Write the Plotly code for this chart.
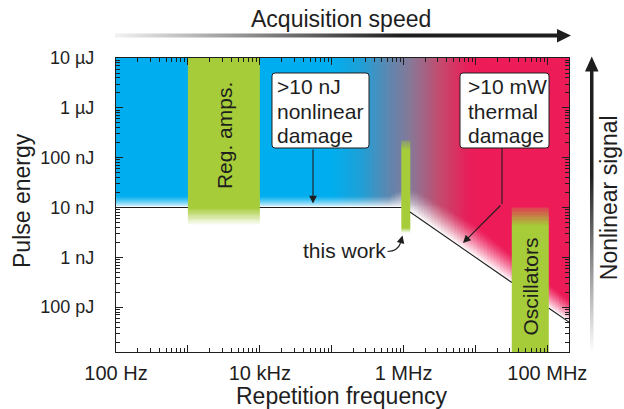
import base64
import numpy as np
import plotly.graph_objects as go

FONT = "Liberation Sans, Arial, Helvetica, sans-serif"
INK = "#1e1e1e"

# ---------------- data ----------------
freq_tickvals = [1e2, 1e3, 1e4, 1e5, 1e6, 1e7, 1e8]
freq_ticktext = ["100 Hz", "", "10 kHz", "", "1 MHz", "", "100 MHz"]
energy_tickvals = [1e-10, 1e-9, 1e-8, 1e-7, 1e-6, 1e-5]
energy_ticktext = ["100 pJ", "1 nJ", "10 nJ", "100 nJ", "1 µJ", "10 µJ"]
freq_range = [1e2, 2e8]          # Hz
energy_range = [1.26e-11, 1e-5]  # J

nonlinear_limit_J = 10e-9   # >10 nJ nonlinear damage
thermal_limit_W = 10e-3     # >10 mW thermal damage

# laser sources: frequency span, energy [fade bottom, solid bottom, solid top, fade top]
regamp_freq = [1e3, 1e4]
regamp_energy = [4.4e-9, 1e-8, 1e-5, 1e-5]
thiswork_freq = [0.93e6, 1.23e6]
thiswork_energy = [3.1e-9, 3.9e-9, 1.4e-7, 2.2e-7]
osc_freq = [3.2e7, 1.05e8]
osc_energy = [1.26e-11, 1.26e-11, 4.3e-9, 1.0e-8]

# background colour versus log10(frequency)
bg_stop_logf = [2.0, 5.0, 5.4, 5.8, 6.1, 6.5, 6.9, 7.1, 8.31]
bg_stop_rgb = [(0, 174, 239), (0, 174, 239), (30, 160, 215), (95, 135, 175),
               (135, 120, 150), (195, 75, 110), (232, 30, 90), (237, 27, 88),
               (237, 27, 88)]
# width (decades of energy) of the white fade above the damage boundary
fade_logf = [2.0, 5.8, 6.2, 7.0, 8.31]
fade_width = [0.25, 0.25, 0.55, 0.65, 0.45]

GREEN = (166, 204, 57)

# ---------------- geometry helpers (plot area in pixels) ----------------
W, H = 624, 409
L, R, T, B = 116, 569, 58, 352


def px(x):
    return (x - L) / (R - L)


def py(y):
    return (B - y) / (B - T)


def boundary(f):
    return np.minimum(nonlinear_limit_J, thermal_limit_W / f)


fig = go.Figure()

lf0, lf1 = np.log10(freq_range)
le0, le1 = np.log10(energy_range)
lx_edges = np.linspace(lf0, lf1, 316)
ly_edges = np.linspace(le0, le1, 296)
lx_mid = 0.5 * (lx_edges[:-1] + lx_edges[1:])
ly_mid = 0.5 * (ly_edges[:-1] + ly_edges[1:])

span = bg_stop_logf[-1] - bg_stop_logf[0]
bg_scale = [[(l - bg_stop_logf[0]) / span, "rgb(%d,%d,%d)" % c]
            for l, c in zip(bg_stop_logf, bg_stop_rgb)]
fig.add_trace(go.Heatmap(
    x=10 ** lx_edges, y=energy_range, z=[lx_mid.tolist()],
    colorscale=bg_scale, zmin=bg_stop_logf[0], zmax=bg_stop_logf[-1],
    showscale=False, hoverinfo="skip"))

LX, LY = np.meshgrid(lx_mid, ly_mid)
d = LY - np.log10(boundary(10 ** LX))
w = np.interp(LX, fade_logf, fade_width)
alpha = np.where(d <= 0, 1.0, np.clip(1 - d / w, 0, 1) ** 1.3)
fig.add_trace(go.Heatmap(
    x=10 ** lx_edges, y=10 ** ly_edges, z=np.round(alpha, 3).tolist(),
    colorscale=[[0, "rgba(255,255,255,0)"], [1, "rgba(255,255,255,1)"]],
    zmin=0, zmax=1, showscale=False, hoverinfo="skip"))


def bar_trace(freq, energy, top_alpha=0.0, bottom_alpha=0.0, n=14):
    e0, e1, e2, e3 = np.log10(energy)
    edges = []
    if e1 - e0 > 1e-6:
        edges += list(np.linspace(e0, e1, n + 1))
    else:
        edges += [e1]
    if e3 - e2 > 1e-6:
        edges += list(np.linspace(e2, e3, n + 1))
    else:
        edges += [e2]
    edges = np.array(edges)
    mids = 0.5 * (edges[:-1] + edges[1:])
    z = []
    for m in mids:
        if m < e1:
            a = bottom_alpha + (1 - bottom_alpha) * (m - e0) / (e1 - e0)
        elif m > e2:
            a = 1 - (1 - top_alpha) * (m - e2) / (e3 - e2)
        else:
            a = 1.0
        z.append([a])
    rgb = "%d,%d,%d" % GREEN
    return go.Heatmap(x=freq, y=10 ** edges, z=z,
                      colorscale=[[0, "rgba(%s,0)" % rgb], [1, "rgba(%s,1)" % rgb]],
                      zmin=0, zmax=1, showscale=False, hoverinfo="skip")


fig.add_trace(bar_trace(regamp_freq, regamp_energy))
fig.add_trace(bar_trace(thiswork_freq, thiswork_energy, top_alpha=0.35))
fig.add_trace(bar_trace(osc_freq, osc_energy, top_alpha=0.2))

# damage boundary line (hidden behind the laser-source bars)
f_cross = thermal_limit_W / nonlinear_limit_J
covers = sorted([regamp_freq, thiswork_freq, osc_freq])
seg_x = []
start = freq_range[0]
for c0, c1 in covers + [[freq_range[1], freq_range[1]]]:
    pts = [start] + ([f_cross] if start < f_cross < c0 else []) + [c0]
    seg_x += pts + [None]
    start = c1
line_x = [v for v in seg_x]
line_y = [None if v is None else float(boundary(v)) for v in seg_x]
fig.add_trace(go.Scatter(x=line_x, y=line_y, mode="lines", connectgaps=False,
                         line=dict(color=INK, width=1.1), hoverinfo="skip"))

minor_x = [m * 10 ** k for k in range(2, 9) for m in range(2, 10) if m * 10 ** k <= freq_range[1]]
minor_y = [m * 10.0 ** k for k in range(-11, -5) for m in range(2, 10)
           if energy_range[0] <= m * 10.0 ** k <= energy_range[1]]

axis_common = dict(ticks="inside", ticklen=7, tickwidth=1, tickcolor=INK,
                   showline=True, linecolor=INK, linewidth=1.2, mirror="allticks",
                   showgrid=False, zeroline=False, automargin=False)
fig.update_xaxes(type="log", range=[lf0, lf1], tickvals=freq_tickvals,
                 ticktext=freq_ticktext, tickfont=dict(size=20, color=INK, family=FONT),
                 minor=dict(tickvals=minor_x, ticks="inside", ticklen=3.5,
                            tickwidth=0.8, tickcolor=INK, showgrid=False),
                 ticklabelstandoff=3, **axis_common)
fig.update_yaxes(type="log", range=[le0, le1], tickvals=energy_tickvals,
                 ticktext=energy_ticktext, tickfont=dict(size=18, color=INK, family=FONT),
                 minor=dict(tickvals=minor_y, ticks="inside", ticklen=3.5,
                            tickwidth=0.8, tickcolor=INK, showgrid=False),
                 ticklabelstandoff=17, **axis_common)

shapes = []
annotations = []


def rrect(x0, y0, x1, y1, r=3):
    pts = [("M", [(x0 + r, y0)]), ("L", [(x1 - r, y0)]), ("Q", [(x1, y0), (x1, y0 + r)]),
           ("L", [(x1, y1 - r)]), ("Q", [(x1, y1), (x1 - r, y1)]), ("L", [(x0 + r, y1)]),
           ("Q", [(x0, y1), (x0, y1 - r)]), ("L", [(x0, y0 + r)]), ("Q", [(x0, y0), (x0 + r, y0)])]
    s = ""
    for cmd, ps in pts:
        s += cmd + " " + " ".join("%.5f,%.5f" % (px(a), py(b)) for a, b in ps) + " "
    return s + "Z"


def text(x, y, s, size=21, angle=0, xanchor="center"):
    annotations.append(dict(x=px(x), y=py(y), xref="paper", yref="paper", text=s,
                            showarrow=False, textangle=angle, xanchor=xanchor,
                            yanchor="middle", font=dict(size=size, color=INK, family=FONT)))


def arrow(x, y, ax, ay):
    annotations.append(dict(x=px(x), y=py(y), xref="paper", yref="paper", text="",
                            showarrow=True, ax=ax - x, ay=ay - y, arrowhead=2,
                            arrowsize=1.4, arrowwidth=1.1, arrowcolor=INK,
                            standoff=0, startstandoff=0))


# callout boxes
for (x0, x1, tx, lines) in [(272, 369, 274.5, [">10 nJ", "nonlinear", "damage"]),
                            (460, 549, 465.5, [">10 mW", "thermal", "damage"])]:
    shapes.append(dict(type="path", path=rrect(x0, 73, x1, 148), xref="paper", yref="paper",
                       fillcolor="white", line=dict(color=INK, width=1)))
    for i, s in enumerate(lines):
        text(tx, 86.7 + 24.5 * i, s, xanchor="left")

arrow(313, 203.5, 313, 148)
shapes.append(dict(type="line", xref="paper", yref="paper", x0=px(502), x1=px(502),
                   y0=py(148), y1=py(204), line=dict(color=INK, width=1.1)))
arrow(463, 243, 502, 204)

# this work
text(344, 250.5, "this work")
shapes.append(dict(type="path", xref="paper", yref="paper",
                   path="M %.5f,%.5f Q %.5f,%.5f %.5f,%.5f" % (px(387.5), py(251.5), px(398), py(251),
                                                                px(400.5), py(243)),
                   line=dict(color=INK, width=1.1)))
arrow(402.5, 235.5, 400.5, 243)

# bar labels
annotations.append(dict(x=float(np.mean(np.log10(regamp_freq))), y=-6.55, xref="x", yref="y",
                        text="Reg. amps.", showarrow=False, textangle=-90,
                        font=dict(size=21, color=INK, family=FONT)))
annotations.append(dict(x=float(np.mean(np.log10(osc_freq))), y=-9.58, xref="x", yref="y",
                        text="Oscillators", showarrow=False, textangle=-90,
                        font=dict(size=21, color=INK, family=FONT)))

# titles
text(341, 18.7, "Acquisition speed", size=23)
text(341, 396, "Repetition frequency", size=23)
text(22, 201, "Pulse energy", size=23, angle=-90)
text(608.7, 197.5, "Nonlinear signal", size=23, angle=-90)

# gradient arrows (decoration)
svg = f'''<svg xmlns="http://www.w3.org/2000/svg" width="{W}" height="{H}" viewBox="0 0 {W} {H}">
<defs>
<linearGradient id="gh" gradientUnits="userSpaceOnUse" x1="115" y1="0" x2="400" y2="0">
<stop offset="0" stop-color="#f2f2f2"/><stop offset="1" stop-color="#1e1e1e"/></linearGradient>
<linearGradient id="gv" gradientUnits="userSpaceOnUse" x1="0" y1="352" x2="0" y2="175">
<stop offset="0" stop-color="#ffffff"/><stop offset="1" stop-color="#1e1e1e"/></linearGradient>
</defs>
<rect x="115" y="33.5" width="444" height="4" fill="url(#gh)"/>
<polygon points="557,29 571,35.5 557,42.5" fill="#1e1e1e"/>
<rect x="590" y="70" width="3.5" height="282" fill="url(#gv)"/>
<polygon points="585,71.5 591.75,56.5 598.5,71.5" fill="#1e1e1e"/>
</svg>'''
src = "data:image/svg+xml;base64," + base64.b64encode(svg.encode()).decode()
images = [dict(source=src, xref="paper", yref="paper", x=px(0), y=py(0),
               sizex=W / (R - L), sizey=H / (B - T), xanchor="left", yanchor="top",
               sizing="stretch", layer="above")]

fig.update_layout(width=W, height=H, margin=dict(l=L, r=W - R, t=T, b=H - B, pad=0),
                  plot_bgcolor="white", paper_bgcolor="white", showlegend=False,
                  shapes=shapes, annotations=annotations, images=images,
                  font=dict(family=FONT, color=INK))

fig.write_html("out.html")
